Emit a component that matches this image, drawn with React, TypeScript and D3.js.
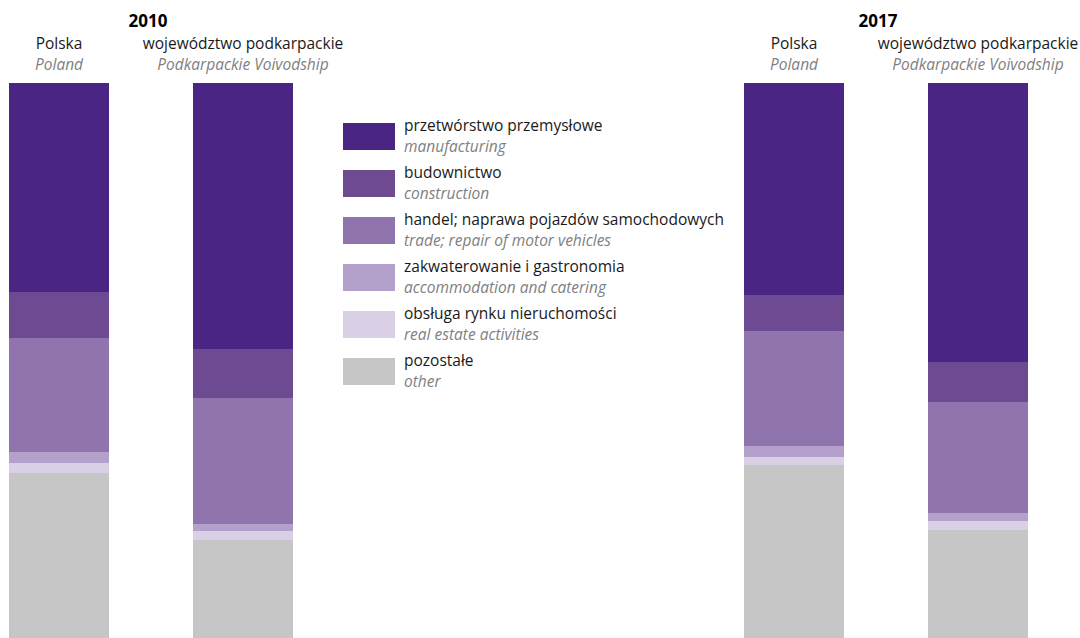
import React from "react";
import * as d3 from "d3";

const years = ["2010", "2017"];
const regionsPl = ["Polska", "województwo podkarpackie"];
const regionsEn = ["Poland", "Podkarpackie Voivodship"];
const sectorKeys = ["manufacturing", "construction", "trade", "accommodation", "realEstate", "other"];
const sectorPl = [
  "przetwórstwo przemysłowe",
  "budownictwo",
  "handel; naprawa pojazdów samochodowych",
  "zakwaterowanie i gastronomia",
  "obsługa rynku nieruchomości",
  "pozostałe",
];
const sectorEn = [
  "manufacturing",
  "construction",
  "trade; repair of motor vehicles",
  "accommodation and catering",
  "real estate activities",
  "other",
];
const sectorColors = ["#4b2583", "#6e4a93", "#8f74ad", "#b3a1cb", "#d9d0e6", "#c6c6c6"];

// values in % (year, region)
const manufacturing = [37.7, 47.9, 38.2, 50.3];
const construction = [8.3, 8.8, 6.5, 7.2];
const trade = [20.5, 22.7, 20.7, 20.0];
const accommodation = [2.0, 1.3, 2.0, 1.4];
const realEstate = [1.8, 1.6, 1.4, 1.6];
const other = [29.7, 17.7, 31.2, 19.5];

const barYears = ["2010", "2010", "2017", "2017"];
const barRegions = [0, 1, 0, 1];

export default function App() {
  const W = 1080;
  const H = 638;
  const rows = barYears.map((y, i) => ({
    year: y,
    region: barRegions[i],
    manufacturing: manufacturing[i],
    construction: construction[i],
    trade: trade[i],
    accommodation: accommodation[i],
    realEstate: realEstate[i],
    other: other[i],
  }));
  const stack = d3.stack<any>().keys(sectorKeys).order(d3.stackOrderNone).offset(d3.stackOffsetNone);
  const series = stack(rows);

  const yScale = d3.scaleLinear().domain([0, 100]).range([83, 638]);
  const groupX = d3.scaleBand().domain(years).range([9, 1028]).paddingInner(0.6136);
  const innerX = d3.scaleBand<number>().domain([0, 1]).range([0, groupX.bandwidth()]).paddingInner(0.4565);

  const font = "'Open Sans', 'Noto Sans', sans-serif";
  const dark = "#1a1a1a";
  const gray = "#7f7f7f";
  const fs = 15.5;

  const legendX = 343;
  const legendTop = 123;
  const legendStep = 47;

  return (
    <svg width={W} height={H} style={{ position: "absolute", left: 0, top: 0, background: "#fff" }} fontFamily={font}>
      {series.map((s, si) => (
        <g key={s.key} fill={sectorColors[si]}>
          {s.map((d, i) => {
            const x = (groupX(rows[i].year) as number) + (innerX(rows[i].region) as number);
            return (
              <rect
                key={i}
                x={x}
                width={innerX.bandwidth()}
                y={yScale(d[0])}
                height={yScale(d[1]) - yScale(d[0])}
                shapeRendering="crispEdges"
              />
            );
          })}
        </g>
      ))}

      {years.map((y) => {
        const gx = groupX(y) as number;
        return (
          <g key={y}>
            <text
              x={gx + groupX.bandwidth() / 2 - (y === "2010" ? 3 : 8)}
              y={27}
              textAnchor="middle"
              fontWeight="bold"
              fontSize={17}
              fill="#000"
            >
              {y}
            </text>
            {[0, 1].map((r) => {
              const cx = gx + (innerX(r) as number) + innerX.bandwidth() / 2;
              return (
                <g key={r}>
                  <text x={cx} y={49} textAnchor="middle" fontSize={fs} fill={dark}>
                    {regionsPl[r]}
                  </text>
                  <text x={cx} y={70} textAnchor="middle" fontSize={fs} fontStyle="italic" fill={gray}>
                    {regionsEn[r]}
                  </text>
                </g>
              );
            })}
          </g>
        );
      })}

      {sectorKeys.map((k, i) => {
        const top = legendTop + i * legendStep;
        return (
          <g key={k}>
            <rect x={legendX} y={top} width={52} height={27} fill={sectorColors[i]} />
            <text x={404} y={top + 8} fontSize={fs} fill={dark}>
              {sectorPl[i]}
            </text>
            <text x={404} y={top + 29} fontSize={fs} fontStyle="italic" fill={gray}>
              {sectorEn[i]}
            </text>
          </g>
        );
      })}
    </svg>
  );
}
